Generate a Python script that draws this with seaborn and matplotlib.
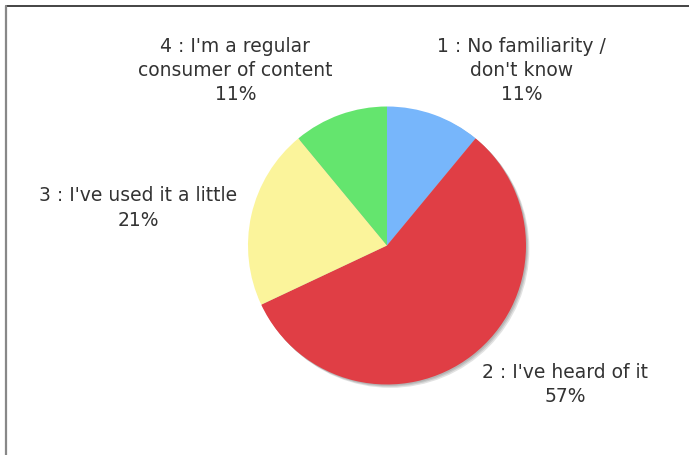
import matplotlib
matplotlib.use("Agg")
import matplotlib.pyplot as plt
from matplotlib.patches import Circle
from matplotlib.lines import Line2D
import seaborn as sns

sns.set_theme(style="white")
plt.rcParams["font.family"] = ["DejaVu Sans"]

# Survey answers, in clockwise order starting at 12 o'clock
categories = [
    "1 : No familiarity /\ndon't know",
    "2 : I've heard of it",
    "3 : I've used it a little",
    "4 : I'm a regular\nconsumer of content",
]
shares = [11, 57, 21, 11]
colors = ["#77B6FB", "#E03E45", "#FBF49B", "#64E56E"]

# Label anchor points, in pie-radius units from the centre
label_pos = [(0.97, 1.26), (1.28, -1.0), (-1.79, 0.27), (-1.09, 1.26)]

W, H, DPI = 689, 455, 100
fig = plt.figure(figsize=(W / DPI, H / DPI), dpi=DPI)
ax = fig.add_axes([0, 0, 1, 1])

# pixel scale of one pie radius, and the pie centre in pixels
r_px = 139.0
cx, cy = 387.0, 245.5

# soft drop shadow under the pie
for off, col in [(0.024, "#e2e2e2"), (0.016, "#c9c9c9"), (0.009, "#b4b4b4")]:
    ax.add_patch(Circle((off, -off), 1.0, facecolor=col, edgecolor="none", zorder=1))

wedges, _ = ax.pie(
    shares,
    colors=colors,
    startangle=90,
    counterclock=False,
    radius=1.0,
    center=(0, 0),
    frame=True,
    wedgeprops=dict(linewidth=0),
)
for w in wedges:
    w.set_zorder(2)
ax.set_xlim(-cx / r_px, (W - cx) / r_px)
ax.set_ylim(-(H - cy) / r_px, cy / r_px)
ax.set_axis_off()

for name, val, (lx, ly) in zip(categories, shares, label_pos):
    ax.text(lx, ly, f"{name}\n{val}%", ha="center", va="center",
            fontsize=13.5, color="#333333", linespacing=1.34, zorder=3)

# panel frame: dark top rule and grey left rule
fig.add_artist(Line2D([6 / W, 1], [1 - 5.5 / H, 1 - 5.5 / H],
                      transform=fig.transFigure, color="#111111", linewidth=1.1))
fig.add_artist(Line2D([5.8 / W, 5.8 / W], [0, 1 - 5.5 / H],
                      transform=fig.transFigure, color="#888888", linewidth=1.6))

fig.savefig("out.png", dpi=DPI, facecolor="white")
